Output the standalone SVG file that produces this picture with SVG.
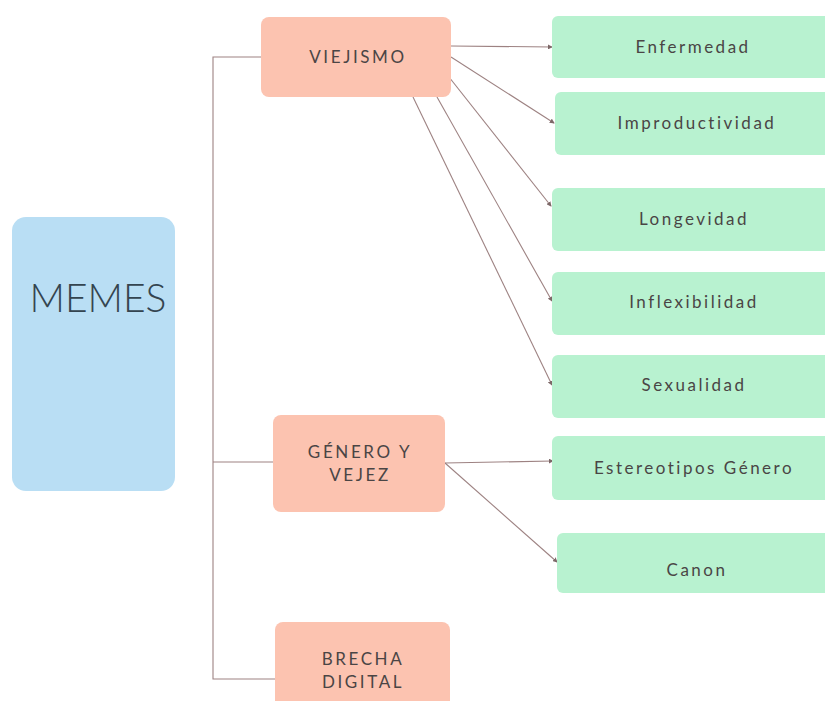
<svg xmlns="http://www.w3.org/2000/svg" width="825" height="701" viewBox="0 0 825 701">
<defs>
<style>
.blue{fill:#b9def4}
.pink{fill:#fcc3b0}
.green{fill:#b8f2d0}
.t{font-family:"Lato","Liberation Sans",sans-serif;fill:#4a4545;text-anchor:middle}
.pt{font-size:17px;letter-spacing:2.6px}
.gt{font-size:17px;letter-spacing:2.5px}
.conn line,.conn polyline{stroke:#9d8282;stroke-width:1.1;fill:none}
.arr{marker-end:url(#ah)}
</style>
<marker id="ah" viewBox="0 0 6 6" refX="5" refY="3" markerWidth="5" markerHeight="5" orient="auto" markerUnits="userSpaceOnUse">
<path d="M0,0 L6,3 L0,6 z" fill="#7d6868"/>
</marker>
</defs>
<rect width="825" height="701" fill="#ffffff"/>
<g class="conn">
<polyline points="261,57 213,57 213,679 275,679"/>
<line x1="213" y1="462" x2="273" y2="462"/>
<line class="arr" x1="451" y1="46" x2="552" y2="47"/>
<line class="arr" x1="451" y1="57" x2="554" y2="123"/>
<line class="arr" x1="449" y1="77" x2="551" y2="206"/>
<line class="arr" x1="437" y1="97" x2="552" y2="301"/>
<line class="arr" x1="413" y1="97" x2="552" y2="385"/>
<line class="arr" x1="445" y1="463" x2="553" y2="461"/>
<line class="arr" x1="445" y1="463" x2="557" y2="562"/>
</g>
<g id="memes">
<rect class="blue" x="12" y="217" width="163" height="274" rx="14"/>
<text x="98" y="312" font-family="Lato,'Liberation Sans',sans-serif" font-weight="300" font-size="39" fill="#34444f" text-anchor="middle">MEMES</text>
</g>
<g id="viejismo">
<rect class="pink" x="261" y="17" width="190" height="80" rx="8"/>
<text class="t pt" x="358" y="63">VIEJISMO</text>
</g>
<g id="genero">
<rect class="pink" x="273" y="415" width="172" height="97" rx="8"/>
<text class="t pt" x="360" y="458">GÉNERO Y</text>
<text class="t pt" x="360" y="481">VEJEZ</text>
</g>
<g id="brecha">
<rect class="pink" x="275" y="622" width="175" height="90" rx="8"/>
<text class="t pt" x="363" y="665">BRECHA</text>
<text class="t pt" x="363" y="688">DIGITAL</text>
</g>
<g id="enfermedad">
<rect class="green" x="552" y="16" width="285" height="62" rx="6"/>
<text class="t gt" x="693" y="53">Enfermedad</text>
</g>
<g id="improductividad">
<rect class="green" x="555" y="92" width="282" height="63" rx="6"/>
<text class="t gt" x="697" y="129">Improductividad</text>
</g>
<g id="longevidad">
<rect class="green" x="552" y="188" width="285" height="63" rx="6"/>
<text class="t gt" x="694" y="225">Longevidad</text>
</g>
<g id="inflexibilidad">
<rect class="green" x="552" y="272" width="285" height="63" rx="6"/>
<text class="t gt" x="694" y="308">Inflexibilidad</text>
</g>
<g id="sexualidad">
<rect class="green" x="552" y="355" width="285" height="63" rx="6"/>
<text class="t gt" x="694" y="391">Sexualidad</text>
</g>
<g id="estereotipos">
<rect class="green" x="552" y="436" width="285" height="64" rx="6"/>
<text class="t gt" x="694" y="474">Estereotipos Género</text>
</g>
<g id="canon">
<rect class="green" x="557" y="533" width="280" height="60" rx="6"/>
<text class="t gt" x="697" y="576">Canon</text>
</g>
</svg>
